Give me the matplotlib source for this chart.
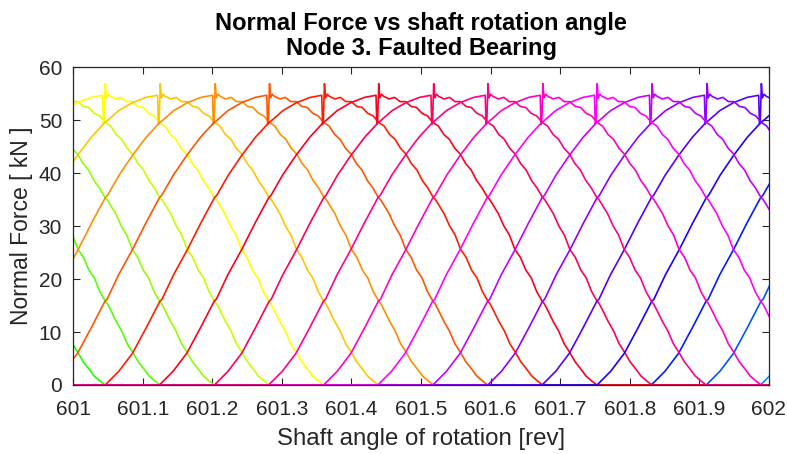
import colorsys
import numpy as np
import matplotlib
matplotlib.use("Agg")
import matplotlib.pyplot as plt

# ball entry positions into the load zone [rev], one per rolling element (k = -7 .. 13)
ball_k = [-7, -6, -5, -4, -3, -2, -1, 0, 1, 2, 3, 4, 5, 6, 7, 8, 9, 10, 11, 12, 13]
ball_entry = [600.417, 600.496, 600.574, 600.653, 600.731, 600.810, 600.889, 600.967,
              601.046, 601.124, 601.203, 601.281, 601.360, 601.438, 601.517, 601.596,
              601.674, 601.753, 601.831, 601.910, 601.988]
# colormap index (hsv, 27 balls)
ball_id = [10, 9, 8, 7, 6, 5, 4, 3, 2, 1, 27, 26, 25, 24, 23, 22, 21, 20, 19, 18, 17]
n_balls = 27
ball_pitch = 0.0786  # rev between successive balls

# load lobe: position in ball pitches, force in kN
lobe_s = [0, 0.25, 0.5, 0.75, 1.0, 1.04, 1.25, 1.5, 1.75, 2.0, 2.04, 2.25, 2.5, 2.75,
          3.0, 3.04, 3.25, 3.5, 3.75, 3.96, 3.975, 3.99, 4.01, 4.03, 4.06, 4.1, 4.2,
          4.3, 4.4, 4.5, 4.6, 4.7, 4.8, 4.9, 5.0, 5.04, 5.1, 5.2, 5.3, 5.4, 5.5, 5.6,
          5.7, 5.8, 5.9, 6.0, 6.04, 6.1, 6.2, 6.3, 6.4, 6.5, 6.6, 6.7, 6.8, 6.9, 7.0,
          7.04, 7.1, 7.2, 7.3, 7.4, 7.5, 7.6, 7.7, 7.8, 7.9, 8.0]
lobe_f = [0, 2.6, 6.0, 10.8, 15.8, 16.2, 20.8, 25.5, 30.6, 35.4, 35.8, 39.6, 43.4, 46.8,
          49.6, 49.9, 51.8, 53.3, 54.3, 54.7, 49.2, 50.0, 56.9, 54.2, 54.9, 54.5, 54.0,
          54.3, 53.5, 53.5, 52.6, 52.4, 51.3, 50.8, 49.6, 49.3, 48.9, 47.3, 46.4, 44.7,
          43.6, 41.8, 40.6, 38.6, 37.2, 35.4, 35.0, 34.0, 32.3, 30.0, 28.3, 25.6, 24.1,
          21.7, 20.2, 17.6, 15.8, 15.3, 14.1, 12.0, 10.2, 7.8, 6.2, 4.4, 3.1, 1.7, 0.8, 0]

# stacking of the lines (last on top)
draw_order = [-7, -6, -5, -4, -3, -2, -1, 0, 13, 12, 11, 1, 2, 3, 10, 9, 8, 7, 6, 5, 4]

fig = plt.figure(figsize=(7.87, 4.54), dpi=100)
ax = fig.add_axes([0.093, 0.152, 0.884, 0.700])

for i, k in enumerate(ball_k):
    x = [600.0] + [ball_entry[i] + s * ball_pitch for s in lobe_s] + [603.0]
    y = [0.0] + lobe_f + [0.0]
    color = colorsys.hsv_to_rgb(((ball_id[i] - 1.5) / n_balls) % 1.0, 1.0, 1.0)
    ax.plot(x, y, color=color, lw=1.2, zorder=2 + draw_order.index(k) * 0.01)

ax.set_xlim(601, 602)
ax.set_ylim(0, 60)
ax.set_xticks(np.arange(601, 602.01, 0.1))
ax.set_xticklabels(["%g" % round(t, 1) for t in np.arange(601, 602.01, 0.1)])
ax.set_yticks(np.arange(0, 61, 10))

fam = ["Liberation Sans", "DejaVu Sans"]
ax.tick_params(direction="in", top=True, right=True, length=5, width=0.8,
               labelsize=15, colors="#262626", pad=8)
ax.tick_params(axis="x", pad=11)
for lab in ax.get_xticklabels() + ax.get_yticklabels():
    lab.set_family(fam)
for sp in ax.spines.values():
    sp.set_color("#262626")
    sp.set_linewidth(0.9)

ax.set_xlabel("Shaft angle of rotation [rev]", fontsize=17.3, family=fam, color="#262626",
              labelpad=6)
ax.set_ylabel("Normal Force [ kN ]", fontsize=16.5, family=fam, color="#262626", labelpad=4)
ax.set_title("Normal Force vs shaft rotation angle\nNode 3. Faulted Bearing",
             fontsize=17, fontweight="bold", family=fam, linespacing=1.1, pad=9)

fig.savefig("out.png", dpi=100)
